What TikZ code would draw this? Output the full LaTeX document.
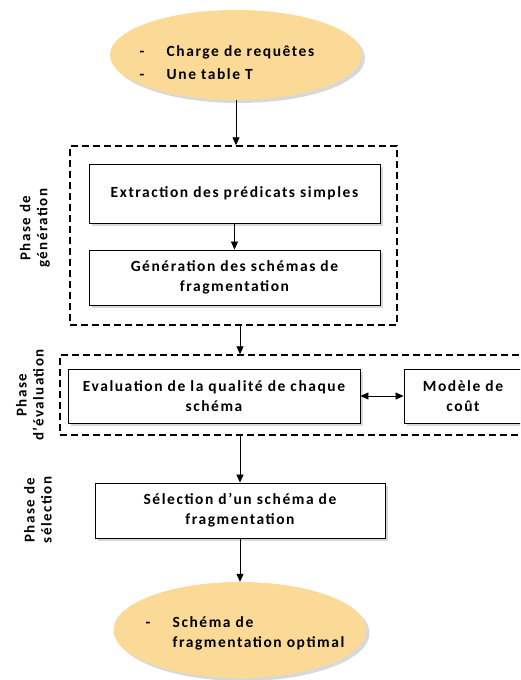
\documentclass[tikz,border=0pt]{standalone}
\usepackage{fontspec}
\setmainfont{Carlito}[LetterSpace=10]
\usetikzlibrary{shapes.geometric,shadows,arrows.meta}
\definecolor{sable}{RGB}{250,218,150}

\tikzstyle{debut} = [ellipse, fill=sable, drop shadow={shadow xshift=3pt, shadow yshift=-3pt, fill=gray!60}, inner sep=0pt]
\tikzstyle{etape} = [rectangle, draw, line width=0.9pt, fill=white, align=center, drop shadow={shadow xshift=3pt, shadow yshift=-3pt, fill=gray!60}]
\tikzstyle{phase} = [rectangle, draw, line width=1.4pt, dash pattern=on 7pt off 4pt]
\tikzstyle{legende} = [rotate=90, align=center, font=\fontsize{15}{17}\selectfont\bfseries]
\tikzstyle{fleche} = [draw, line width=0.8pt, -{Triangle[length=8pt,width=7pt]}]
\tikzstyle{dfleche} = [draw, line width=0.8pt, {Triangle[length=8pt,width=7pt]}-{Triangle[length=8pt,width=7pt]}]

\begin{document}
\begin{tikzpicture}[x=1pt, y=-1pt, font=\fontsize{15.5}{20}\selectfont\bfseries]
	\useasboundingbox (0,0) rectangle (520,680);
	\clip (0,0) rectangle (520,680);
	\node (req) at (236,55) [debut, minimum width=252pt, minimum height=90pt] {\makebox[0pt]{\smash{\raisebox{-13pt}{\begin{tabular}{@{}p{15pt}l@{}}-&Charge de requêtes\\[3pt]-&Une table T\end{tabular}}}\hspace*{18pt}}};
	\node (gen) at (233.5,235.5) [phase, minimum width=327pt, minimum height=179pt] {};
	\node (ext) at (234.5,193.5) [etape, minimum width=291pt, minimum height=59pt] {Extraction des prédicats simples};
	\node (sch) at (234.5,277.5) [etape, minimum width=291pt, minimum height=55pt] {Génération des schémas de\\fragmentation};
	\node (eva) at (295,395) [phase, minimum width=470pt, minimum height=80pt] {};
	\node (qual) at (214,396) [etape, minimum width=292pt, minimum height=54pt] {Evaluation de la qualité de chaque\\schéma};
	\node (cout) at (463,396) [etape, minimum width=118pt, minimum height=54pt] {Modèle de\\coût};
	\node (sel) at (240,510.5) [etape, minimum width=290pt, minimum height=55pt] {Sélection d'un schéma de\\fragmentation};
	\node (opt) at (240,630) [debut, minimum width=253pt, minimum height=96pt] {\makebox[0pt]{\hspace*{10pt}\smash{\raisebox{-7pt}{\begin{tabular}{@{}p{15pt}l@{}}-&Schéma de\\&fragmentation optimal\end{tabular}}}}};
	\node (lgen) at (35,228) [legende] {Phase de\\génération};
	\node (leva) at (30,395) [legende] {Phase\\d'évaluation};
	\node (lsel) at (38,510) [legende] {Phase de\\sélection};
	\path[fleche] (req.south) -- (req.south |- gen.north);
	\path[fleche] (ext) -- (sch);
	\path[fleche] (gen.south -| sel) -- (eva.north -| sel);
	\path[fleche] (eva.south -| sel) -- (sel);
	\path[fleche] (sel) -- (opt);
	\path[dfleche] (qual) -- (cout);
\end{tikzpicture}
\end{document}
